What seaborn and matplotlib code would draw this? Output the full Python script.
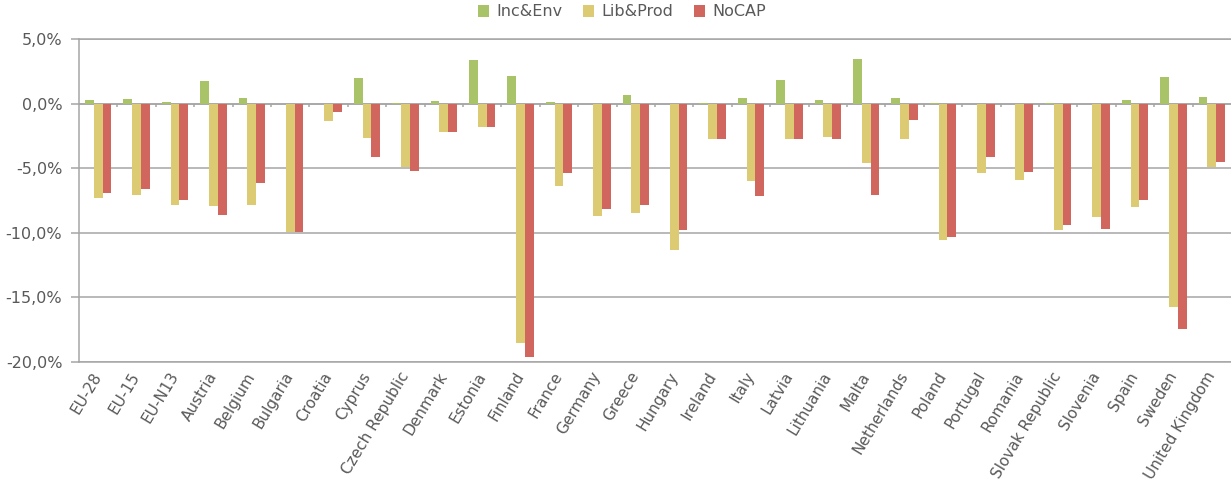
import numpy as np
import pandas as pd
import matplotlib
matplotlib.use("Agg")
import matplotlib.pyplot as plt
from matplotlib.ticker import FuncFormatter
import seaborn as sns

# Change relative to baseline, per scenario (percent)
regions = ["EU-28", "EU-15", "EU-N13", "Austria", "Belgium", "Bulgaria", "Croatia",
           "Cyprus", "Czech Republic", "Denmark", "Estonia", "Finland", "France",
           "Germany", "Greece", "Hungary", "Ireland", "Italy", "Latvia", "Lithuania",
           "Malta", "Netherlands", "Poland", "Portugal", "Romania", "Slovak Republic",
           "Slovenia", "Spain", "Sweden", "United Kingdom"]
inc_env = [0.31, 0.39, 0.15, 1.73, 0.47, 0.0, -0.03, 1.96, 0.08, 0.23, 3.38, 2.12,
           0.15, -0.02, 0.70, 0.0, 0.08, 0.47, 1.81, 0.31, 3.46, 0.47, 0.05, -0.03,
           0.0, 0.05, 0.0, 0.31, 2.04, 0.54]
lib_prod = [-7.29, -7.05, -7.83, -7.93, -7.83, -9.90, -1.34, -2.66, -4.90, -2.22,
            -1.81, -18.55, -6.41, -8.71, -8.48, -11.32, -2.76, -6.02, -2.76, -2.61,
            -4.60, -2.76, -10.54, -5.37, -5.94, -9.82, -8.81, -8.01, -15.76, -4.91]
no_cap = [-6.90, -6.64, -7.44, -8.63, -6.18, -9.97, -0.65, -4.10, -5.22, -2.22,
          -1.81, -19.59, -5.37, -8.17, -7.83, -9.77, -2.76, -7.13, -2.76, -2.76,
          -7.05, -1.27, -10.31, -4.10, -5.32, -9.43, -9.69, -7.44, -17.44, -4.52]
scenarios = ["Inc&Env", "Lib&Prod", "NoCAP"]
y_ticks = [5, 0, -5, -10, -15, -20]

palette = ["#A9C468", "#DDCB73", "#D0665E"]
grid_grey = "#A6A6A6"
text_grey = "#595959"

df = pd.DataFrame({"region": regions, "Inc&Env": inc_env,
                   "Lib&Prod": lib_prod, "NoCAP": no_cap})
long = df.melt(id_vars="region", var_name="scenario", value_name="change")

sns.set_theme(style="white")
plt.rcParams["font.family"] = ["DejaVu Sans"]

W, H = 1231, 488
fig = plt.figure(figsize=(W / 100, H / 100), dpi=100)
ax = fig.add_axes([79 / W, 1 - 362 / H, 1 - 79 / W, (362 - 39) / H])

sns.barplot(data=long, x="region", y="change", hue="scenario",
            hue_order=scenarios, order=regions, palette=palette,
            width=0.69, saturation=1, linewidth=0, errorbar=None, ax=ax)

ax.set_ylim(min(y_ticks), max(y_ticks))
ax.set_yticks(y_ticks)
ax.yaxis.set_major_formatter(FuncFormatter(lambda v, _: f"{v:.1f}%".replace(".", ",")))
ax.set_xlabel("")
ax.set_ylabel("")

# horizontal grid and frame
ax.yaxis.grid(True, color=grid_grey, linewidth=1.1)
ax.set_axisbelow(True)
for side in ["top", "bottom", "left"]:
    ax.spines[side].set_color(grid_grey)
    ax.spines[side].set_linewidth(1.1)
ax.spines["right"].set_visible(False)

ax.tick_params(axis="y", direction="out", length=6, width=1.1, color=grid_grey,
               labelsize=11.5, labelcolor=text_grey, pad=6, left=True)
ax.tick_params(axis="x", length=0, labelsize=11, labelcolor=text_grey, pad=8)
for lbl in ax.get_xticklabels():
    lbl.set_rotation(59)
    lbl.set_ha("right")
    lbl.set_va("center")
    lbl.set_rotation_mode("anchor")

# zero baseline with category separators
secax = ax.secondary_xaxis(0, transform=ax.transData)
secax.set_xticks(np.arange(0.5, len(regions) - 1))
secax.tick_params(axis="x", direction="out", length=2.5, width=1.1, color=grid_grey,
                  labelbottom=False, labeltop=False)
secax.spines["bottom"].set_color(grid_grey)
secax.spines["bottom"].set_linewidth(1.1)

handles, labels = ax.get_legend_handles_labels()
ax.get_legend().remove()
fig.legend(handles, labels, loc="center", bbox_to_anchor=(0.505, 1 - 12 / H),
           ncol=3, frameon=False, fontsize=11.5, labelcolor=text_grey,
           handlelength=0.7, handleheight=0.7, handletextpad=0.45,
           columnspacing=1.3, borderpad=0)

fig.savefig("out.png", dpi=100)
